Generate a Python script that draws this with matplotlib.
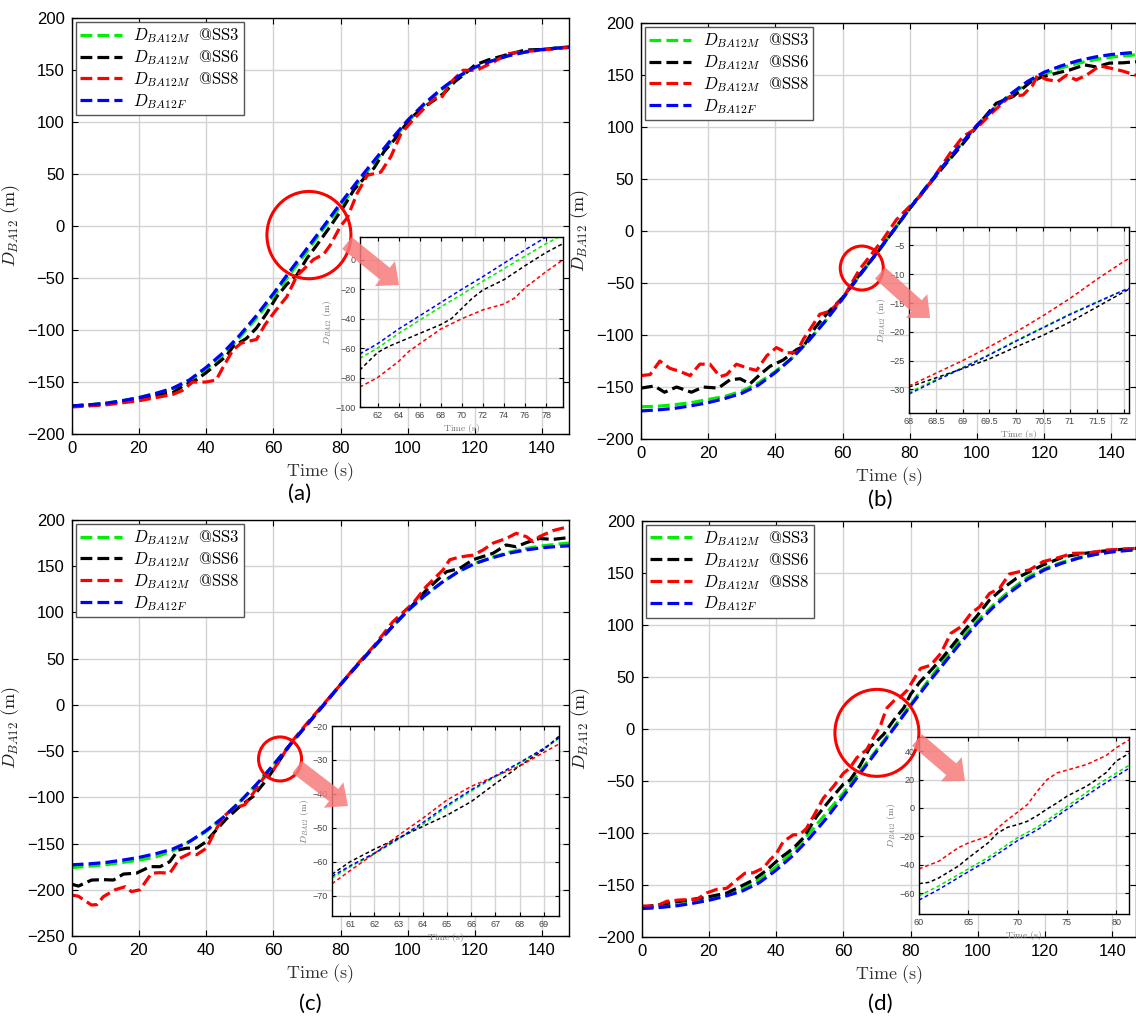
import matplotlib
matplotlib.use("Agg")
import matplotlib.pyplot as plt
from matplotlib.patches import Ellipse, FancyArrowPatch, ArrowStyle

plt.rcParams['mathtext.fontset'] = 'cm'
plt.rcParams['font.family'] = ['Liberation Sans', 'DejaVu Sans']

W, H = 1136, 1019

# ---------------- data ----------------
t5 = [0, 5, 10, 15, 20, 25, 30, 35, 40, 45, 50, 55, 60, 65, 70, 75, 80, 85, 90,
      95, 100, 105, 110, 115, 120, 125, 130, 135, 140, 145, 148]

# D_BA12F (true), same in all panels
d_true = [-173, -172, -170.5, -168, -165, -161, -156, -148, -136, -122, -105, -86, -65,
          -43, -21.5, 0, 22, 43, 63, 83, 102, 118, 132, 144, 153, 159, 164, 167.5, 170,
          171.5, 172]

# panel (a)
ss3_a = [-173, -172, -170.5, -168, -165, -161, -156.5, -149, -137.5, -124, -107, -88.5,
         -68, -46, -24.5, -2, 19, 40.5, 61, 81, 100.5, 117, 131, 143.5, 152.5, 159, 164,
         167.5, 170, 171.5, 172]
t_ss6_a = [0, 10, 20, 26, 30, 33, 37, 40, 43, 46, 48, 52, 55, 58, 61, 64, 67, 70, 73, 77,
           81, 84, 87, 90, 93, 96, 99, 102, 105, 108, 111, 114, 117, 120, 124, 129, 135,
           140, 148]
ss6_a = [-173, -171, -167, -162, -160.5, -154, -148, -141, -133, -125, -116, -108, -98,
         -84, -68, -56, -47, -31, -18, 0, 19, 35, 46, 56, 72, 83, 96, 107, 115, 121.5,
         128.5, 139, 146.5, 155, 160, 164.5, 169.5, 170, 172.5]
t_ss8_a = [0, 10, 20, 30, 33, 36, 40, 43, 45, 48, 50.5, 55, 57.5, 60.5, 64, 67, 72, 75,
           77, 80, 82, 85, 88, 92, 95, 98, 101.5, 104.5, 108, 110, 112.5, 116.5, 120.5,
           125, 130, 135, 140, 148]
ss8_a = [-174, -172, -168, -162, -158, -150, -150, -148, -136, -119, -112.5, -109, -95,
         -82, -68, -48, -32, -27, -18, 0, 8, 32, 49, 52, 67, 89, 102, 112, 123, 123,
         137.5, 150, 150, 157, 166, 168, 169.5, 172]

# panel (b)
ss3_b = [-169, -168.5, -167, -165, -162, -159, -154, -146, -135, -122, -105, -86, -65,
         -43, -21.5, 0, 22, 43, 63, 83, 102, 118, 131, 142, 151, 157, 161.5, 165, 167.5,
         169, 170]
t_ss6_b = [0, 4, 7, 10.6, 15, 18.5, 23, 26.5, 29.5, 32.4, 35.4, 38.4, 42.3, 46.3, 48.3,
           52, 56, 60, 65, 70, 75, 80, 85, 90, 95, 100, 105.7, 110.7, 115.7, 119, 123.6,
           127.5, 132, 135.5, 139.4, 143.4, 147.3]
ss6_b = [-151, -149, -155, -150, -155, -150, -151, -143, -142, -147, -138, -130, -124,
         -114, -111, -92, -77, -64, -42, -22, 0, 22, 42, 62, 81, 101, 123, 129.5, 143,
         148, 152, 155, 160, 158, 161.7, 162, 163]
t_ss8_b = [0, 2.7, 5.6, 8.6, 11.6, 14.6, 17.5, 20.5, 23.5, 25.5, 28.4, 31.9, 34.4, 37.4,
           40.3, 43.3, 46.3, 48.3, 50.2, 53.2, 56.2, 60.2, 65, 72, 76, 80, 84, 88, 92,
           95.8, 99.8, 104.8, 109.7, 113.7, 116.6, 118, 120.6, 124, 126.6, 129.5, 132.5,
           136.5, 139.5, 143.4, 147.3]
ss8_b = [-139, -138, -125, -132, -135, -139, -128, -128, -140, -138, -128, -132, -134,
         -120, -112, -117, -117, -104, -95, -80, -77, -64, -37, -8, 11, 24, 37, 56, 75,
         91, 99, 115, 129.5, 131, 140.7, 150, 146, 144, 150, 145.5, 150, 159, 157, 154,
         150]

# panel (c)
ss3_c = [-176, -174.5, -173, -170.5, -168, -164.5, -158, -148, -137, -122, -105, -86,
         -65, -43, -21.5, 0, 22, 43, 63, 83, 102, 118, 132, 144, 153, 159.5, 165, 169,
         172, 174, 175]
t_ss6_c = [0, 2, 5.9, 9.4, 12.4, 15.4, 19.3, 23.3, 26.3, 29.2, 31.7, 34.2, 37.2, 40,
           43.1, 46.1, 50, 54, 58, 65, 70, 75, 80, 85, 90, 95, 100, 105.5, 111.5, 115.5,
           119.4, 125.4, 129.3, 132.3, 135.3, 139.2, 143.2, 148]
ss6_c = [-194, -196, -189.5, -189, -189.5, -183, -182, -175, -175, -169.6, -157, -155,
         -155, -148, -135, -123, -110, -99, -81, -43, -21.5, 0, 22, 43, 63, 83, 102, 124,
         144, 147.7, 157, 164, 173, 171, 175.5, 180, 179, 181]
t_ss8_c = [0, 2, 5.9, 7.5, 9.4, 12.9, 15.9, 17.8, 20.3, 23.8, 26.3, 29.2, 32.2, 35.2,
           37.2, 40.1, 42.6, 45.1, 48.1, 51.5, 54, 57, 60, 65, 70, 75, 80, 85, 90, 95.6,
           101.6, 105.5, 110.5, 112.5, 115.5, 119.4, 122.4, 125.4, 129.3, 132.3, 135.3,
           137.3, 139.2, 143.2, 148]
ss8_c = [-205.7, -207, -216.5, -216, -207.5, -200, -196.7, -202, -200, -182, -181.5,
         -182, -166, -160.6, -162, -155, -137, -121, -112, -108, -95.7, -79.5, -70.5, -42,
         -20, 1, 22, 44, 64, 90, 110, 128, 146, 157, 160, 162, 167.5, 175, 180, 185.6,
         182, 176.6, 182, 188.5, 193]

# panel (d)
ss3_d = [-172.5, -171.5, -170, -167, -164, -160, -154, -145, -133, -118, -100, -81, -62,
         -41, -20, 1, 23, 45, 66, 86, 104, 120, 134, 146, 154, 160, 164.5, 168, 170.5,
         172, 172.5]
t_ss6_d = [0, 11.4, 19.3, 25.3, 29.2, 33.2, 37.2, 41.1, 45.1, 48.1, 52, 56, 60, 62, 65,
           68, 70, 72, 75, 78, 80, 82.8, 85.7, 89.7, 93.7, 95.6, 99.6, 103.5, 107.5,
           111.5, 115.4, 119.4, 125.4, 130.3, 135.3, 140.3, 147.3]
ss6_d = [-171.8, -166, -162, -158, -152, -145.5, -136, -124.7, -115, -105, -84.6, -68.6,
         -53.4, -49.4, -35.3, -17.6, -11.8, -5.4, 8.2, 20, 33, 45, 54.8, 69, 85, 93,
         107.7, 123.7, 135, 144.6, 151, 157.4, 165, 168, 170, 171.8, 173.4]
t_ss8_d = [0, 4.5, 7.4, 11.3, 16.4, 19.3, 22.3, 25.3, 28.2, 30.7, 33.2, 36.2, 38.2,
           40.1, 42.1, 45.1, 47, 49, 51.6, 54, 57, 60, 62, 64, 67, 69, 71, 72, 73, 75, 77,
           79, 80, 83, 86, 89, 92, 95, 98, 100.5, 103.5, 106.5, 109.4, 112.4, 115.4,
           119.4, 123.3, 128.3, 133.3, 138.3, 147.2]
ss8_d = [-170.5, -170.5, -166, -164.7, -164, -158, -154.5, -153.5, -145.5, -139, -138.5,
         -134, -126, -120, -108.7, -102, -102, -96, -81.4, -67, -55.8, -43, -37.6, -28,
         -20, -8.2, 2.4, 11.8, 20, 26.6, 30.6, 37, 42.4, 58, 61, 72.4, 91.7, 98, 111, 117,
         130, 135, 148.7, 151, 152.6, 160.6, 163.8, 168.6, 169, 171.8, 173.4]

# zoomed insets
ti_a = [60.3, 62, 64, 66, 68, 70, 72, 74, 76, 78, 79.6]
in_true_a = [-64, -57, -47, -38, -29, -20, -11.4, -2.3, 6.8, 15.5, 22]
in_ss3_a = [-67, -60, -50, -41, -32, -23.5, -14.5, -6, 2.5, 11, 17]
ti6_a = [60.3, 61, 62, 63, 64, 66, 68, 69, 70, 71, 72, 74, 76, 78, 79.6]
in_ss6_a = [-75, -70, -63, -59, -56, -50, -44, -40, -33, -26, -20.5, -13.5, -4, 5, 11]
ti8_a = [60.3, 62, 64, 65, 66, 68, 70, 72, 74, 75, 76, 78, 79.6]
in_ss8_a = [-86.5, -80, -69, -62, -57, -47, -40, -34, -30, -26, -19, -8, 0]

ti_b = [68, 68.5, 69, 69.5, 70, 70.5, 71, 71.5, 72, 72.1]
in_true_b = [-30.8, -28.5, -26.3, -24, -21.6, -19.3, -17.0, -14.9, -12.8, -12.5]
in_ss3_b = [-30.5, -28.3, -26.2, -23.9, -21.5, -19.2, -16.9, -14.8, -12.8, -12.4]
in_ss6_b = [-29.6, -28, -26.4, -24.7, -22.6, -20.6, -18.3, -15.7, -13.1, -12.6]
in_ss8_b = [-29.4, -27.2, -25, -22.6, -20, -17.2, -14.2, -10.9, -7.8, -7.3]

ti_c = [60.25, 61, 62, 63, 64, 65, 66, 67, 68, 69, 69.63]
in_true_c = [-64.3, -61.2, -57.5, -53.2, -48.5, -43.4, -38.8, -34.7, -30.8, -26.6, -23.5]
in_ss3_c = [-64.8, -61.5, -57.7, -53.3, -49, -43.8, -39.2, -35, -31, -26.8, -23.6]
in_ss6_c = [-63.7, -60, -56.3, -53, -49.6, -46.3, -42.3, -37, -31.8, -27, -23]
in_ss8_c = [-66.5, -62.6, -57.6, -52.2, -47.2, -41.8, -37.8, -34.8, -31.8, -27.8, -25.3]

ti_d = [60, 62, 65, 67, 70, 72, 75, 78, 81.3]
in_true_d = [-65, -57.5, -45, -37, -23, -15.5, -1, 13.5, 28]
in_ss3_d = [-62, -55, -43, -35, -21, -13.5, 1, 16, 30]
ti6_d = [60, 61, 62, 64, 65, 67, 68, 69, 70, 71, 72, 73, 74, 75, 76, 77, 78, 79, 80, 81.3]
in_ss6_d = [-53.4, -52.5, -49.4, -41, -35.3, -24.7, -17.6, -13.6, -11.8, -9.4, -5.4,
            -0.7, 3.5, 8.2, 11.8, 15.3, 20, 25, 33, 38.4]
ti8_d = [60, 62, 64, 65, 67, 69, 70, 71, 72, 73, 74, 75, 77, 79, 80, 81.3]
in_ss8_d = [-43, -37.6, -28, -24.7, -20, -8.2, -3, 2.4, 11.8, 20, 24.7, 26.6, 30.6, 37,
            42.4, 48]

labels = [r'$D_{BA12M}\ \ \mathrm{@SS3}$', r'$D_{BA12M}\ \ \mathrm{@SS6}$',
          r'$D_{BA12M}\ \ \mathrm{@SS8}$', r'$D_{BA12F}$']
colors = ['#00ee00', 'black', 'red', 'blue']


def rect(l, t, r, b):
    return [l / W, 1 - b / H, (r - l) / W, (b - t) / H]


def style(ax, fs, pad):
    ax.tick_params(direction='in', top=True, right=True, labelsize=fs, length=4, pad=pad)
    ax.grid(True, color='#d4d4d4', lw=1.0)
    ax.set_axisbelow(True)
    for s in ax.spines.values():
        s.set_linewidth(1.0)


panels = [
    dict(box=(71.7, 18.3, 569, 434), ylim=(-200, 200), xlim=(0, 148),
         s3=(t5, ss3_a), s6=(t_ss6_a, ss6_a), s8=(t_ss8_a, ss8_a),
         inset=(360, 237, 563, 407), ixl=(60.33, 79.6), iyl=(-100, 15.5),
         ixt=range(62, 79, 2), iyt=range(-100, 1, 20),
         ins=[(ti_a, in_ss3_a), (ti6_a, in_ss6_a), (ti8_a, in_ss8_a), (ti_a, in_true_a)],
         ell=(70.6, -8.6, 25, 84), arr=((347, 243), (399, 285)), tag='(a)', tagpos=(300, 494)),
    dict(box=(641, 23.3, 1136, 439), ylim=(-200, 200), xlim=(0, 147.3),
         s3=(t5, ss3_b), s6=(t_ss6_b, ss6_b), s8=(t_ss8_b, ss8_b),
         inset=(909, 227, 1129, 413), ixl=(68, 72.1), iyl=(-34.1, -1.8),
         ixt=[68, 68.5, 69, 69.5, 70, 70.5, 71, 71.5, 72], iyt=range(-30, -4, 5),
         ins=[(ti_b, in_ss3_b), (ti_b, in_ss6_b), (ti_b, in_ss8_b), (ti_b, in_true_b)],
         ell=(65.7, -35.5, 12.8, 42.3), arr=((880, 273), (930, 318)), tag='(b)', tagpos=(880, 500)),
    dict(box=(71.7, 520, 569, 936), ylim=(-250, 200), xlim=(0, 148),
         s3=(t5, ss3_c), s6=(t_ss6_c, ss6_c), s8=(t_ss8_c, ss8_c),
         inset=(332, 726, 559, 916), ixl=(60.25, 69.63), iyl=(-76, -20),
         ixt=range(61, 70), iyt=range(-70, -19, 10),
         ins=[(ti_c, in_ss3_c), (ti_c, in_ss6_c), (ti_c, in_ss8_c), (ti_c, in_true_c)],
         ell=(62, -58.5, 12.8, 47.6), arr=((297, 767), (348, 806)), tag='(c)', tagpos=(310, 1004)),
    dict(box=(641.7, 520.7, 1136, 936.7), ylim=(-200, 200), xlim=(0, 147.1),
         s3=(t5, ss3_d), s6=(t_ss6_d, ss6_d), s8=(t_ss8_d, ss8_d),
         inset=(919, 737, 1129, 914), ixl=(60, 81.3), iyl=(-74.8, 50),
         ixt=range(60, 81, 5), iyt=range(-60, 41, 20),
         ins=[(ti_d, in_ss3_d), (ti6_d, in_ss6_d), (ti8_d, in_ss8_d), (ti_d, in_true_d)],
         ell=(70, -4, 25, 83.6), arr=((917, 740), (965, 781)), tag='(d)', tagpos=(880, 1004)),
]

fig = plt.figure(figsize=(W / 100, H / 100), dpi=100)

for p in panels:
    ax = fig.add_axes(rect(*p['box']))
    series = [p['s3'], p['s6'], p['s8'], (t5, d_true)]
    for (t, y), c, lab in zip(series, colors, labels):
        ax.plot(t, y, '--', color=c, lw=2.3, label=lab)
    ax.set_xlim(*p['xlim'])
    ax.set_ylim(*p['ylim'])
    ax.set_xticks(range(0, 141, 20))
    ax.set_yticks(range(p['ylim'][0], 201, 50))
    style(ax, 12, 5)
    ax.set_xlabel(r'$\mathrm{Time\ (s)}$', fontsize=13, labelpad=3, color='#333333')
    ax.set_ylabel(r'$D_{BA12}\ \mathrm{(m)}$', fontsize=13, labelpad=4, color='#222222')
    leg = ax.legend(loc='upper left', fontsize=12, fancybox=False, framealpha=1,
                    edgecolor='#555555', handlelength=2.5, borderaxespad=0.25,
                    labelspacing=0.18, borderpad=0.25, handletextpad=0.7)
    leg.get_frame().set_linewidth(1.0)

    cx, cy, ew, eh = p['ell']
    ax.add_patch(Ellipse((cx, cy), ew, eh, fill=False, edgecolor='red', lw=2.2, zorder=6))

    # inset
    ia = fig.add_axes(rect(*p['inset']))
    for (t, y), c in zip(p['ins'], colors):
        ia.plot(t, y, '--', color=c, lw=1.1, dashes=(2.5, 1.8))
    ia.set_xlim(*p['ixl'])
    ia.set_ylim(*p['iyl'])
    ia.set_xticks(list(p['ixt']))
    ia.set_xticklabels(['%g' % v for v in p['ixt']])
    ia.set_yticks(list(p['iyt']))
    style(ia, 6.5, 3)
    ia.tick_params(length=3, labelcolor='#444444')
    ia.set_xlabel(r'$\mathrm{Time\ (s)}$', fontsize=7, color='#777777', labelpad=1)
    ia.set_ylabel(r'$D_{BA12}\ \mathrm{(m)}$', fontsize=7, color='#777777', labelpad=1)

    (x0, y0), (x1, y1) = p['arr']
    arrow = FancyArrowPatch((x0 / W, 1 - y0 / H), (x1 / W, 1 - y1 / H),
                            transform=fig.transFigure,
                            arrowstyle=ArrowStyle.Simple(head_length=1.3, head_width=2.3,
                                                         tail_width=1.1),
                            mutation_scale=10, color='#f77b7b', alpha=0.85, lw=0,
                            shrinkA=0, shrinkB=0, zorder=10)
    fig.add_artist(arrow)

    tx, ty = p['tagpos']
    fig.text(tx / W, 1 - ty / H, p['tag'], ha='center', va='center', fontsize=16,
             family=['Lato', 'DejaVu Sans'])

fig.savefig('out.png', dpi=100)
